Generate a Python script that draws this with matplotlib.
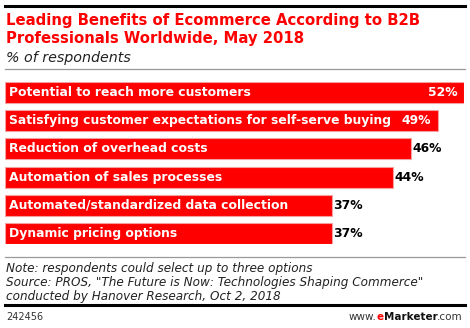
import matplotlib
matplotlib.use('Agg')
import matplotlib.pyplot as plt

W, H = 470, 328

categories = ['Potential to reach more customers',
              'Satisfying customer expectations for self-serve buying',
              'Reduction of overhead costs',
              'Automation of sales processes',
              'Automated/standardized data collection',
              'Dynamic pricing options']
values = [52, 49, 46, 44, 37, 37]
inside_label = [True, True, False, False, False, False]

title_lines = ['Leading Benefits of Ecommerce According to B2B',
               'Professionals Worldwide, May 2018']
subtitle = '% of respondents'
notes = ['Note: respondents could select up to three options',
         'Source: PROS, "The Future is Now: Technologies Shaping Commerce"',
         'conducted by Hanover Research, Oct 2, 2018']
chart_id = '242456'

RED = '#ff0000'


def fx(x):
    return x / W


def fy(y):
    return 1 - y / H


fig = plt.figure(figsize=(W / 100, H / 100), dpi=100)
fig.patch.set_facecolor('white')

# rules
fig.add_artist(plt.Line2D([fx(5), fx(465)], [fy(5.5), fy(5.5)], color='black', lw=2.2))
fig.add_artist(plt.Line2D([fx(5), fx(465)], [fy(69), fy(69)], color='#999999', lw=0.9))
fig.add_artist(plt.Line2D([fx(5), fx(465)], [fy(257), fy(257)], color='#999999', lw=0.9))
fig.add_artist(plt.Line2D([fx(5), fx(465)], [fy(305), fy(305)], color='black', lw=2.2))

# title block
for k, line in enumerate(title_lines):
    fig.text(fx(6), fy(25 + 18 * k), line, color=RED, fontsize=10.7, fontweight='bold',
             va='baseline', ha='left')
fig.text(fx(6), fy(62), subtitle, color='#222222', fontsize=10.3, style='italic',
         va='baseline', ha='left')

# bars
top, bottom = 82, 244
n = len(categories)
half = 0.3725
ax = fig.add_axes([fx(5), fy(bottom), fx(464) - fx(5), (bottom - top) / H])
ax.barh(range(n), values, height=2 * half, color=RED, edgecolor='#f4a0a0', linewidth=0.8)
ax.set_xlim(0, max(values))
ax.set_ylim(n - 1 + half, -half)
ax.axis('off')

for i, (cat, v) in enumerate(zip(categories, values)):
    ax.annotate(cat, xy=(0, i), xytext=(2.8, 0), textcoords='offset points',
                color='white', fontsize=8.9, fontweight='bold', va='center', ha='left')
    if inside_label[i]:
        ax.annotate('%d%%' % v, xy=(v, i), xytext=(-4.5, 0), textcoords='offset points',
                    color='white', fontsize=8.9, fontweight='bold', va='center', ha='right')
    else:
        ax.annotate('%d%%' % v, xy=(v, i), xytext=(1, 0), textcoords='offset points',
                    color='black', fontsize=8.9, fontweight='bold', va='center', ha='left')

# notes
for k, line in enumerate(notes):
    fig.text(fx(6), fy(272 + 14 * k), line, color='#222222', fontsize=8.65,
             style='italic', va='baseline', ha='left')

fig.text(fx(6), fy(320), chart_id, color='#333333', fontsize=7, va='baseline', ha='left')

# www.eMarketer.com
t1 = fig.text(fx(463), fy(320), '.com', color='#333333', fontsize=7.5, va='baseline', ha='right')
t2 = fig.text(0, 0, 'Marketer', color='#111111', fontsize=7.5, fontweight='bold')
t3 = fig.text(0, 0, 'e', color=RED, fontsize=7.5, fontweight='bold')
t4 = fig.text(0, 0, 'www.', color='#333333', fontsize=7.5)

fig.canvas.draw()
r = fig.canvas.get_renderer()
x = t1.get_window_extent(r).x0
for t in (t2, t3, t4):
    w = t.get_window_extent(r).width
    x -= w
    t.set_position((x / fig.bbox.width, fy(320)))
    t.set_va('baseline')

fig.savefig('out.png', dpi=100, facecolor='white')
